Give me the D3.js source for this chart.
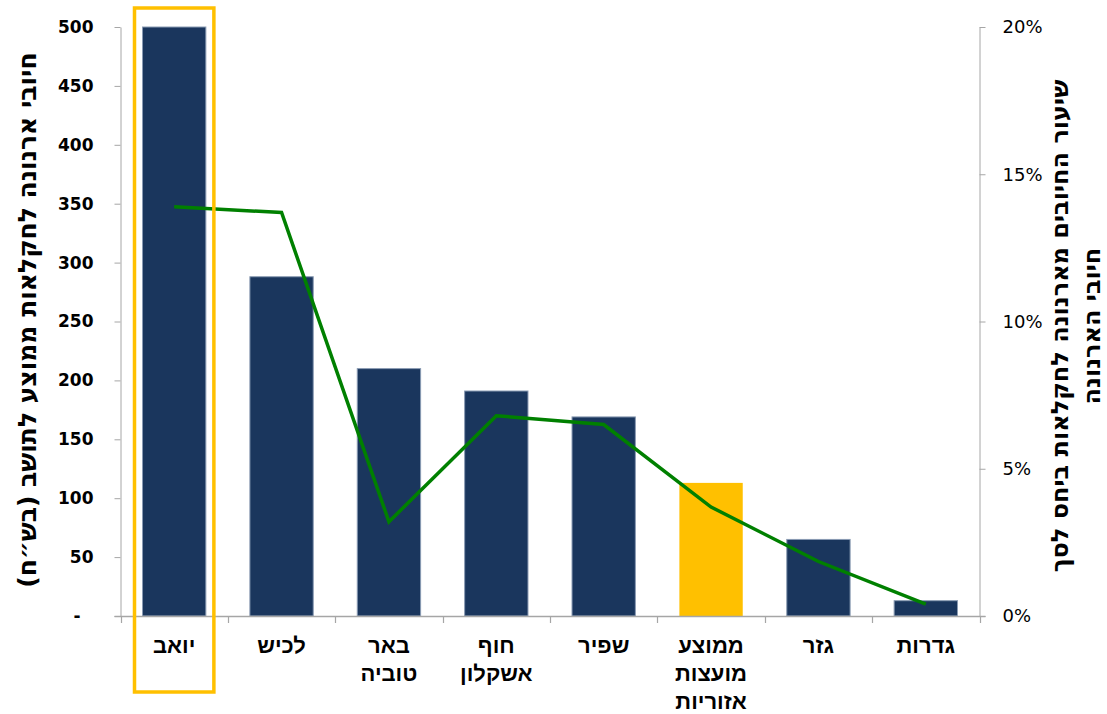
<!DOCTYPE html>
<html>
<head>
<meta charset="utf-8">
<script src="https://cdn.jsdelivr.net/npm/d3@7"></script>
<style>
  html, body { margin: 0; padding: 0; background: #fff; }
  svg { display: block; }
</style>
</head>
<body>
<svg id="chart" width="1107" height="714"></svg>
<script>
// ---- data ----
const categories = ["יואב", "לכיש", "באר טוביה", "חוף אשקלון", "שפיר", "ממוצע מועצות אזוריות", "גזר", "גדרות"];
const chargePerResident = [500, 288, 210, 191, 169, 113, 65, 13];
const shareOfTotal = [0.139, 0.137, 0.032, 0.068, 0.065, 0.037, 0.0185, 0.004];
const leftTicks = [0, 50, 100, 150, 200, 250, 300, 350, 400, 450, 500];
const rightTicks = [0, 0.05, 0.10, 0.15, 0.20];
const highlightCategory = "יואב";
const averageCategory = "ממוצע מועצות אזוריות";
const leftTitle = "חיובי ארנונה לחקלאות ממוצע לתושב (בש״ח)";
const rightTitleLines = ["שיעור החיובים מארנונה לחקלאות ביחס לסך", "חיובי הארנונה"];

// ---- layout ----
const svg = d3.select("#chart");
const plot = { left: 120.5, right: 979.5, top: 27, bottom: 616 };
const axisColor = "#a6a6a6";
const navy = "#1a365d";
const gold = "#ffc000";

const xSlot = d3.scaleBand().domain(categories).range([plot.left, plot.right]).padding(0);
const xBar = d3.scaleBand().domain(categories).range([plot.left, plot.right])
  .paddingInner(0.41).paddingOuter(0.205);
const yLeft = d3.scaleLinear().domain([0, 500]).range([plot.bottom, plot.top]);
const yRight = d3.scaleLinear().domain([0, 0.20]).range([plot.bottom, plot.top]);

// bars
svg.append("g").selectAll("rect").data(categories).join("rect")
  .attr("x", d => xBar(d))
  .attr("width", xBar.bandwidth())
  .attr("y", (d, i) => yLeft(chargePerResident[i]))
  .attr("height", (d, i) => yLeft(0) - yLeft(chargePerResident[i]))
  .attr("fill", d => d === averageCategory ? gold : navy)
  .attr("stroke", d => d === averageCategory ? "none" : "#8a9bb3")
  .attr("stroke-width", 1);

// left axis
const leftAxis = d3.axisLeft(yLeft).tickValues(leftTicks).tickSize(6).tickSizeOuter(0).tickPadding(21)
  .tickFormat(d => d === 0 ? "-" : d3.format("d")(d));
const gL = svg.append("g").attr("transform", `translate(${plot.left},0)`).call(leftAxis);
gL.select(".domain").attr("stroke", axisColor);
gL.selectAll(".tick line").attr("stroke", axisColor);
gL.selectAll(".tick text")
  .attr("font-family", "'DejaVu Sans', Verdana, sans-serif")
  .attr("font-weight", "bold").attr("font-size", 17).attr("fill", "#000")
  .attr("dx", d => d === 0 ? -13 : 0);

// right axis
const rightAxis = d3.axisRight(yRight).tickValues(rightTicks).tickSize(6).tickSizeOuter(0).tickPadding(17)
  .tickFormat(d3.format(".0%"));
const gR = svg.append("g").attr("transform", `translate(${plot.right},0)`).call(rightAxis);
gR.select(".domain").attr("stroke", axisColor);
gR.selectAll(".tick line").attr("stroke", axisColor);
gR.selectAll(".tick text")
  .attr("font-family", "'DejaVu Sans', Verdana, sans-serif")
  .attr("font-size", 18).attr("fill", "#000");

// bottom axis (ticks at category boundaries)
const boundaries = categories.map(c => xSlot(c)).concat([xSlot(categories[categories.length - 1]) + xSlot.bandwidth()]);
const gB = svg.append("g");
gB.append("line").attr("x1", plot.left - 6).attr("x2", plot.right + 6)
  .attr("y1", plot.bottom + 0.5).attr("y2", plot.bottom + 0.5).attr("stroke", axisColor).attr("stroke-width", 1.5);
gB.selectAll("line.tk").data(boundaries).join("line").attr("class", "tk")
  .attr("x1", d => Math.round(d) + 0.5).attr("x2", d => Math.round(d) + 0.5)
  .attr("y1", plot.bottom).attr("y2", plot.bottom + 7)
  .attr("stroke", axisColor).attr("stroke-width", 1.2);

const catLabels = gB.selectAll("text.cat").data(categories).join("text").attr("class", "cat")
  .attr("x", d => xSlot(d) + xSlot.bandwidth() / 2)
  .attr("y", 653)
  .attr("text-anchor", "middle")
  .attr("direction", "rtl")
  .attr("font-family", "'Liberation Sans', Arial, sans-serif")
  .attr("font-weight", "bold").attr("font-size", 22).attr("fill", "#000");
catLabels.each(function(d) {
  const words = d.split(" ");
  d3.select(this).selectAll("tspan").data(words).join("tspan")
    .attr("x", xSlot(d) + xSlot.bandwidth() / 2)
    .attr("dy", (w, i) => i === 0 ? 0 : 28)
    .text(w => w);
});

// line series
const line = d3.line()
  .x((d, i) => xSlot(categories[i]) + xSlot.bandwidth() / 2)
  .y(d => yRight(d));
svg.append("path").datum(shareOfTotal)
  .attr("d", line)
  .attr("fill", "none").attr("stroke", "#008000").attr("stroke-width", 3.5)
  .attr("stroke-linejoin", "miter");

// highlight box around first category
svg.append("rect")
  .attr("x", xSlot(highlightCategory) + 14)
  .attr("y", 8)
  .attr("width", xSlot.bandwidth() - 28)
  .attr("height", 684)
  .attr("fill", "none").attr("stroke", gold).attr("stroke-width", 3.5);

// axis titles
svg.append("text")
  .attr("transform", `translate(27,320) rotate(-90)`)
  .attr("dy", "0.35em")
  .attr("text-anchor", "middle").attr("direction", "rtl")
  .attr("font-family", "'DejaVu Sans', sans-serif")
  .attr("font-weight", "bold").attr("font-size", 25).attr("fill", "#000")
  .text(leftTitle);

const rx = [1060, 1092];
rightTitleLines.forEach((t, i) => {
  svg.append("text")
    .attr("transform", `translate(${rx[i]},326) rotate(-90)`)
    .attr("dy", "0.35em")
    .attr("text-anchor", "middle").attr("direction", "rtl")
    .attr("font-family", "'DejaVu Sans', sans-serif")
    .attr("font-weight", "bold").attr("font-size", 24).attr("fill", "#000")
    .text(t);
});
</script>
</body>
</html>
